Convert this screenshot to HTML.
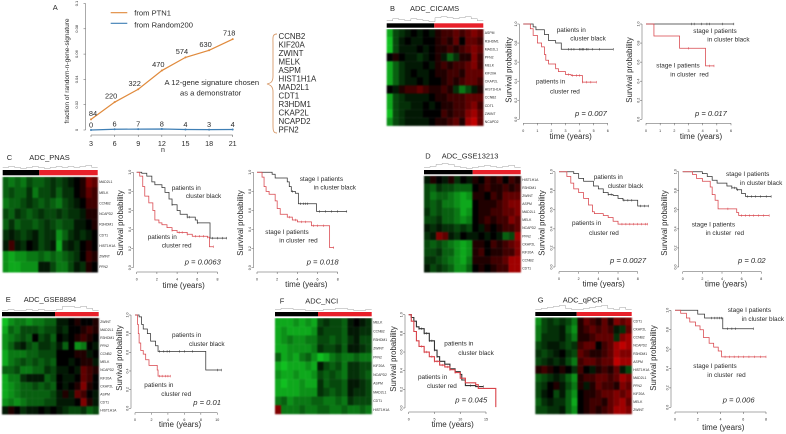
<!DOCTYPE html>
<html>
<head>
<meta charset="utf-8">
<style>
html,body{margin:0;padding:0;background:#fff;width:786px;height:434px;overflow:hidden}
svg{display:block;filter:blur(0.3px)}
text{font-family:"Liberation Sans",sans-serif;fill:#2a2a2a}
.an{font-size:6.4px}
.pv{font-size:7.6px;font-style:italic}
.yl{font-size:7.8px;text-anchor:middle}
.xl{font-size:8px;text-anchor:middle}
.ti{font-size:7.5px}
.g{font-size:7.6px}
.cells{filter:blur(0.7px)}
</style>
</head>
<body>
<svg id="fig" xmlns="http://www.w3.org/2000/svg" width="786" height="434" viewBox="0 0 786 434">
<rect width="786" height="434" fill="#fff"/>

<g id="panelA">
<text class="ti" x="52.7" y="10">A</text>
<text transform="translate(69,71) rotate(-90)" text-anchor="middle" style="font-size:6.6px">fraction of random-n-gene-signature</text>
<text x="163" y="152" text-anchor="middle" style="font-size:7px">n</text>
<line x1="110.7" x2="127.3" y1="12.7" y2="12.7" stroke="#e08a3c" stroke-width="1.1"/>
<line x1="110.7" x2="127.3" y1="23.3" y2="23.3" stroke="#3f7fb5" stroke-width="1.1"/>
<text class="g" x="134.3" y="15.5">from PTN1</text>
<text class="g" x="134.3" y="27.5">from Random200</text>
<text class="g" x="164.5" y="85">A 12-gene signature chosen</text>
<text class="g" x="180" y="95.5">as a demonstrator</text>
<path d="M277,34 C272,34 273,38 273,44 L273,76 C273,82 271,83 267,84 C271,85 273,87 273,92 L273,125 C273,130 273,133 277,133" fill="none" stroke="#d79a6a" stroke-width="0.9"/>
<g class="g" style="font-size:7.9px">
<text x="278.5" y="39" style="font-size:7.9px">CCNB2</text>
<text x="278.5" y="47.5" style="font-size:7.9px">KIF20A</text>
<text x="278.5" y="56" style="font-size:7.9px">ZWINT</text>
<text x="278.5" y="64.6" style="font-size:7.9px">MELK</text>
<text x="278.5" y="73.1" style="font-size:7.9px">ASPM</text>
<text x="278.5" y="81.6" style="font-size:7.9px">HIST1H1A</text>
<text x="278.5" y="90.1" style="font-size:7.9px">MAD2L1</text>
<text x="278.5" y="98.7" style="font-size:7.9px">CDT1</text>
<text x="278.5" y="107.2" style="font-size:7.9px">R3HDM1</text>
<text x="278.5" y="115.7" style="font-size:7.9px">CKAP2L</text>
<text x="278.5" y="124.2" style="font-size:7.9px">NCAPD2</text>
<text x="278.5" y="132.7" style="font-size:7.9px">PFN2</text>
</g>
</g>

<g id="panelB">
<text class="ti" x="390" y="11">B</text>
<text class="ti" x="410" y="11">ADC_CICAMS</text>
<text class="an" x="556.7" y="32">patients in</text>
<text class="an" x="570.3" y="40.5">cluster black</text>
<text class="an" x="536" y="83.5">patients in</text>
<text class="an" x="550" y="93.5">cluster red</text>
<text class="pv" x="575" y="116">p = 0.007</text>
<text class="yl" transform="translate(511.6,70) rotate(-90)">Survival probability</text>
<text class="xl" x="570.7" y="139">time (years)</text>
<text class="an" x="693.3" y="33">stage I patients</text>
<text class="an" x="707.3" y="41.5">in cluster black</text>
<text class="an" x="656.3" y="67.5">stage I patients</text>
<text class="an" x="670.3" y="76.5" xml:space="preserve">in cluster  red</text>
<text class="pv" x="695" y="116">p = 0.017</text>
<text class="yl" transform="translate(632,70) rotate(-90)">Survival probability</text>
<text class="xl" x="701" y="139">time (years)</text>
</g>

<g id="panelC">
<text class="ti" x="6.7" y="160">C</text>
<text class="ti" x="29.3" y="160">ADC_PNAS</text>
<text class="an" x="171.7" y="190">patients in</text>
<text class="an" x="185.7" y="198">cluster black</text>
<text class="an" x="147.7" y="239">patients in</text>
<text class="an" x="161.7" y="247.5">cluster red</text>
<text class="pv" x="184.7" y="264.5">p = 0.0063</text>
<text class="yl" transform="translate(123,223) rotate(-90)">Survival probability</text>
<text class="xl" x="183.7" y="288">time (years)</text>
<text class="an" x="299.7" y="181">stage I patients</text>
<text class="an" x="313.7" y="189.5">in cluster black</text>
<text class="an" x="265.3" y="234">stage I patients</text>
<text class="an" x="279.3" y="242.5" xml:space="preserve">in cluster  red</text>
<text class="pv" x="306.7" y="264.5">p = 0.018</text>
<text class="yl" transform="translate(243,223) rotate(-90)">Survival probability</text>
<text class="xl" x="306.3" y="287">time (years)</text>
</g>

<g id="panelD">
<text class="ti" x="425.3" y="158.5">D</text>
<text class="ti" x="441.7" y="158.5">ADC_GSE13213</text>
<text class="an" x="593.7" y="179">patients in</text>
<text class="an" x="607.7" y="188">cluster black</text>
<text class="an" x="572" y="225">patients in</text>
<text class="an" x="589" y="235">cluster red</text>
<text class="pv" x="610" y="263">p = 0.0027</text>
<text class="yl" transform="translate(544.7,223) rotate(-90)">Survival probability</text>
<text class="xl" x="603.7" y="286.5">time (years)</text>
<text class="an" x="726" y="176">stage I patients</text>
<text class="an" x="740" y="185">in cluster black</text>
<text class="an" x="691.7" y="226.5">stage I patients</text>
<text class="an" x="705.7" y="235" xml:space="preserve">in cluster  red</text>
<text class="pv" x="738" y="263">p = 0.02</text>
<text class="yl" transform="translate(667,223) rotate(-90)">Survival probability</text>
<text class="xl" x="726" y="286.5">time (years)</text>
</g>

<g id="panelE">
<text class="ti" x="5.7" y="302">E</text>
<text class="ti" x="23.7" y="302">ADC_GSE8894</text>
<text class="an" x="172" y="337">patients in</text>
<text class="an" x="189" y="346">cluster black</text>
<text class="an" x="144.3" y="387">patients in</text>
<text class="an" x="161.3" y="396">cluster red</text>
<text class="pv" x="193.3" y="405">p = 0.01</text>
<text class="yl" transform="translate(122,358) rotate(-90)">Survival probability</text>
<text class="xl" x="180" y="427">time (years)</text>
</g>

<g id="panelF">
<text class="ti" x="279.7" y="303.5">F</text>
<text class="ti" x="305.3" y="303.5">ADC_NCI</text>
<text class="an" x="444.3" y="345.5">patients in</text>
<text class="an" x="458.3" y="355">cluster black</text>
<text class="an" x="418" y="379">patients in</text>
<text class="an" x="427" y="388">cluster red</text>
<text class="pv" x="455.3" y="402.5">p = 0.045</text>
<text class="yl" transform="translate(396,359) rotate(-90)">Survival probability</text>
<text class="xl" x="452.7" y="427">time (years)</text>
</g>

<g id="panelG">
<text class="ti" x="537.7" y="302.5">G</text>
<text class="ti" x="562.7" y="302.5">ADC_qPCR</text>
<text class="an" x="727.7" y="312">stage I patients</text>
<text class="an" x="741.7" y="321">in cluster black</text>
<text class="an" x="693.3" y="368">stage I patients</text>
<text class="an" x="707.3" y="377" xml:space="preserve">in cluster  red</text>
<text class="pv" x="722.7" y="402.5">p = 0.006</text>
<text class="yl" transform="translate(656,358) rotate(-90)">Survival probability</text>
<text class="xl" x="723.3" y="430">time (years)</text>
</g>
</svg>

<script>
// ---------- Panel A data ----------
const nValues=[3,6,9,12,15,18,21];
const ptn1Counts=[84,220,322,470,574,630,718];
const randomCounts=[0,6,7,8,4,3,4];
const fractionTicks=[0,0.02,0.04,0.06,0.08,0.1];
const fractionTickLabels=['0','0.02','0.04','0.06','0.08','0.1'];

// ---------- Survival curves: times, survival values, censor times ----------
const survTicks=[0,0.2,0.4,0.6,0.8,1];
const survTickLabels=['0.0','0.2','0.4','0.6','0.8','1.0'];
const timeTicks1=[0,1,2,3,4,5,6];
const timeTicks2=[0,2,4,6,8];
const timeTicks3=[0,2,4,6,8,10];
const timeTicks5=[0,5,10,15];

const b1BlackT=[0,0.7,0.9,1.5,1.8,2.3,2.7,6.4];
const b1BlackS=[1,0.97,0.94,0.89,0.825,0.8,0.735,0.735];
const b1BlackC=[3.2,3.4,3.6,4,4.1,4.2,4.3,4.5,4.6,4.9,5.4,6.4];
const b1RedT=[0,0.5,0.7,1,1.3,1.5,1.6,1.8,2.3,2.5,3,3.4,4.2,5.2];
const b1RedS=[1,0.95,0.88,0.8,0.76,0.68,0.62,0.58,0.53,0.5,0.47,0.46,0.39,0.39];
const b1RedC=[3.2,3.5,3.8,4,4.2,4.5,4.8,5.2];

const b2BlackT=[0,6.2];
const b2BlackS=[1,1];
const b2BlackC=[3.2,3.4,3.9,4.3,4.5,5.4,6.2];
const b2RedT=[0,0.56,2.37,4.2,4.8];
const b2RedS=[1,0.874,0.745,0.56,0.56];
const b2RedC=[3,4.5,4.8];

const c1BlackT=[0,0.5,1,1.5,1.8,2.5,2.8,3.2,3.5,4,4.3,5,5.8,6,7.26,8.9];
const c1BlackS=[1,0.99,0.96,0.9,0.87,0.84,0.79,0.72,0.66,0.6,0.56,0.53,0.5,0.47,0.31,0.31];
const c1BlackC=[3.5,5,5.2,6,7.5,8,8.5,8.9];
const c1RedT=[0,0.3,0.6,0.8,1.2,1.6,1.8,2.2,2.5,3,3.5,4,5,5.5,7,7.2,7.6];
const c1RedS=[1,0.96,0.85,0.75,0.68,0.6,0.5,0.47,0.45,0.42,0.39,0.37,0.35,0.33,0.32,0.22,0.22];
const c1RedC=[3.5,4.2,4.5,5,5.8,6.2,6.6,7,7.6];

const c2BlackT=[0,1.5,1.8,3,3.2,3.4,3.8,4.1,5.9,8.9];
const c2BlackS=[1,0.98,0.94,0.9,0.85,0.8,0.78,0.67,0.59,0.59];
const c2BlackC=[3.5,4.3,4.6,4.8,5,6.2,6.8,7.4,8,8.9];
const c2RedT=[0,0.5,0.7,0.9,1.2,1.8,2,2.3,3,3.5,4,5.4,7.2,7.6];
const c2RedS=[1,0.95,0.85,0.8,0.77,0.7,0.62,0.56,0.53,0.5,0.48,0.44,0.21,0.21];
const c2RedC=[3.2,3.8,4.4,4.8,5.6,6,6.6,7.6];

const d1BlackT=[0,1.5,2,2.5,3.5,4,4.5,5,5.5,6,6.5,8,9.1];
const d1BlackS=[1,0.98,0.93,0.9,0.85,0.82,0.78,0.76,0.75,0.72,0.7,0.64,0.64];
const d1BlackC=[5,5.3,6.6,7,7.4,8.3,8.7,9.1];
const d1RedT=[0,0.8,1.2,1.5,2,2.5,3,3.4,3.6,4.5,5,5.5,6,9];
const d1RedS=[1,0.95,0.88,0.82,0.78,0.72,0.65,0.58,0.56,0.54,0.52,0.48,0.45,0.45];
const d1RedC=[6.4,6.8,7.2,7.6,8,8.4,8.8,9];

const d2BlackT=[0,2,2.5,3,3.5,4.5,5,5.5,6,6.4,9];
const d2BlackS=[1,0.98,0.95,0.91,0.88,0.85,0.83,0.81,0.77,0.74,0.74];
const d2BlackC=[5,5.3,5.6,6.6,7,7.4,7.9,8.5,9];
const d2RedT=[0,1,1.4,2,2.8,3,3.3,3.6,5.5,5.7,8.8];
const d2RedS=[1,0.97,0.93,0.9,0.84,0.76,0.7,0.61,0.57,0.54,0.54];
const d2RedC=[4.6,6,6.4,6.8,7.2,7.7,8.2,8.8];

const eBlackT=[0,0.5,0.8,1,1.5,1.9,2.5,2.8,8.6,10.5];
const eBlackS=[1,0.98,0.9,0.85,0.8,0.72,0.67,0.61,0.41,0.41];
const eBlackC=[3,3.5,3.9,4.2,5.4,6,7,10,10.5];
const eRedT=[0,0.3,0.4,0.5,0.7,1,1.3,1.7,2.7,2.8,4.3];
const eRedS=[1,0.9,0.8,0.7,0.62,0.58,0.52,0.46,0.41,0.345,0.345];
const eRedC=[3,3.3,3.7,4,4.3];

const fBlackT=[0,0.5,1,1.5,2,3,4,5,5.5,6,7,8,9,10,10.3,11,13,14.5];
const fBlackS=[1,0.97,0.93,0.87,0.85,0.8,0.72,0.62,0.55,0.5,0.47,0.42,0.39,0.36,0.3,0.24,0.23,0.23];
const fBlackC=[2,2.5,3,3.5,4,4.5,5,5.5,6,7,8,9,12,13.5,14.5];
const fRedT=[0,0.5,1,1.5,2,3,4,5,6,7,8,9,10,11,13,13.5,16.9];
const fRedS=[1,0.93,0.82,0.72,0.66,0.6,0.55,0.5,0.46,0.44,0.41,0.38,0.32,0.27,0.25,0.21,0.01];
const fRedC=[2.5,3,3.5,4.5,5,5.5,6.5,7.5,8,9];

const gBlackT=[0,2,2.6,4.2,6.9];
const gBlackS=[1,0.96,0.92,0.81,0.81];
const gBlackC=[3.2,3.5,3.7,3.9,4.1,4.6,5,5.3,6.9];
const gRedT=[0,0.5,1,1.3,1.8,2.2,2.5,3,3.4,3.8,4.1,8];
const gRedS=[1,0.97,0.92,0.88,0.84,0.8,0.72,0.66,0.62,0.58,0.52,0.52];
const gRedC=[4.4,4.8,5.2,5.6,6,6.5,7,7.5,8];

// ---------- Heatmaps: expression level, negative green, positive red ----------
const heatB=[
[-7,-3,-2,-1,0,-1,0,-1,1,2,2,3,2,3,4,3],
[-8,-3,-1,0,-1,-1,0,0,1,2,1,3,0,3,3,2],
[-8,-3,-1,-1,-1,0,-1,0,1,1,2,1,2,3,4,3],
[0,1,0,-1,-1,-2,-1,0,1,-1,-4,-2,1,1,4,2],
[-7,-4,-2,-1,-1,-1,0,-1,1,2,1,2,2,3,4,2],
[-7,-4,-2,-1,0,-1,-1,0,1,1,2,2,1,3,3,3],
[-7,-4,-2,-1,-1,0,-1,0,0,1,2,1,2,3,3,2],
[0,-1,1,2,2,3,2,1,1,2,1,-2,-5,-3,-1,1],
[-7,-3,-2,-1,-1,-1,-1,0,1,1,2,2,2,3,3,3],
[-7,-3,-2,-2,-1,-1,0,-1,0,1,1,2,2,3,4,2],
[-8,-3,-2,-1,-1,-1,0,0,0,2,1,2,2,4,5,3],
[-6,-3,-2,-1,-1,-1,-1,0,1,1,2,3,1,5,6,3]];
const genesB=['ASPM','R3HDM1','MAD2L1','PFN2','MELK','KIF20A','CKAP2L','HIST1H1A','CCNB2','CDT1','ZWINT','NCAPD2'];
const dendroB=[2,4,3,2,4,3,2,1,5,6,5,4,5,6,4,2];

const heatC=[
[-4,-5,-4,-5,-3,-4,-4,-3,-2,-3,-2,-1,0,1,4,3],
[-4,-3,-4,-4,-2,-5,-3,-3,-2,-4,-2,-2,0,1,3,2],
[-5,-4,-4,-3,-2,-3,-4,-3,-4,-5,-3,-2,-1,0,2,2],
[-3,-4,-2,-3,-4,-3,-2,-3,-3,-2,-3,-2,-2,-1,1,1],
[-4,-2,-4,-3,-3,-4,-3,-2,-3,-4,-3,-3,-1,-1,0,1],
[-2,-1,-2,-3,-2,-1,-3,-2,-2,-6,-4,-2,-1,-2,-1,0],
[-1,2,-1,-2,0,-1,-3,-2,-1,-7,-2,-1,-2,0,1,0],
[-6,-7,-6,-6,-5,-5,-4,-5,-4,-5,-4,-3,-2,0,2,1],
[-6,-7,-7,-6,-6,-6,-1,-1,-3,-5,-5,-3,-1,-2,1,0]];
const genesC=['MAD2L1','MELK','CCNB2','NCAPD2','R3HDM1','CDT1','HIST1H1A','ZWINT','PFN2'];
const dendroC=[2,3,2,1,2,3,2,1,2,3,2,3,2,3,4,2];

const heatD=[
[-1,1,0,-1,1,-2,0,-1,1,0,2,1,2,0,2,1],
[-3,-4,-2,-3,-3,-4,-4,-4,0,1,2,1,1,2,1,2],
[-3,-5,-4,-4,-5,-6,-7,-6,1,1,0,2,1,3,3,3],
[-3,-4,-3,-5,-5,-6,-7,-7,0,1,1,1,2,3,4,4],
[-2,-4,-3,-4,-4,-5,-7,-6,0,1,1,2,2,3,3,4],
[-3,-3,-2,-4,-4,-5,-6,-5,0,1,2,1,2,2,4,3],
[-1,-2,-1,-2,-2,-3,-2,-3,0,-1,1,0,1,2,2,3],
[-2,-1,4,3,-1,-2,0,-1,-1,0,-1,0,-1,-4,-3,5],
[-3,-4,-3,-4,-5,-6,-7,-6,1,1,0,2,1,2,3,4],
[-3,-3,-2,-4,-4,-6,-7,-6,1,2,0,1,1,2,2,4],
[-2,-2,-3,-4,-5,-6,-7,-5,1,1,1,2,2,3,5,5],
[-1,-3,-2,-3,-4,-6,-6,-4,0,1,0,1,2,2,5,5]];
const genesD=['HIST1H1A','R3HDM1','ZWINT','ASPM','MAD2L1','MELK','NCAPD2','PFN2','CKAP2L','KIF20A','CCNB2','CDT1'];
const dendroD=[2,3,5,6,5,3,2,1,2,3,4,3,2,3,4,2];

const heatE=[
[-8,-6,-5,-5,-6,-5,-5,-4,-4,-1,-1,0,1,0,0,1],
[-7,-4,-5,-3,-3,-3,-4,-3,-3,-1,-2,0,0,1,2,1],
[-6,-5,-4,-3,-4,0,-3,-2,-4,0,-1,0,1,2,1,0],
[-6,-4,-2,-1,-3,-4,-2,-2,-3,-1,-4,0,-6,-5,0,-1],
[-7,-5,-5,-5,-4,-4,-3,-3,-3,0,0,0,1,1,-1,0],
[-7,-5,-4,-3,-4,-3,-4,-3,-4,0,0,-1,0,1,1,-1],
[-4,-4,-3,-5,-5,-4,-4,-2,-3,-1,-1,0,-1,3,2,1],
[-7,-5,-5,-2,-1,-1,-1,-4,-3,0,-1,-1,0,3,2,0],
[-7,-6,-5,-4,-4,-3,-4,-3,-4,0,-1,0,1,4,1,0],
[-7,-6,-5,-4,-4,-4,-4,-4,-3,-1,1,-1,3,2,0,-1],
[-6,-5,-6,-5,-4,-4,-4,-3,-3,-1,-1,-1,0,4,1,-1],
[-1,1,0,-2,-1,-1,0,-1,0,-1,-2,-3,-3,-2,-4,-3]];
const genesE=['ZWINT','MAD2L1','R3HDM1','PFN2','CCNB2','MELK','NCAPD2','KIF20A','CKAP2L','ASPM','CDT1','HIST1H1A'];
const dendroE=[1,2,1,1,2,1,2,1,1,2,5,5,4,5,3,1];

const heatF=[
[-7,-7,-7,-6,-7,-6,-7,-3,-2,-3,-3,-4,-1,0,-1,-2],
[-7,-6,-7,-7,-7,-7,-6,-2,-3,-3,-3,-4,-1,-1,-2,-2],
[-7,-6,-5,-6,-6,-5,-5,-3,-3,-4,-3,-4,-2,-1,-3,-3],
[-7,-7,-6,-6,-6,-6,-5,-2,-3,-3,-2,-4,-1,-1,-2,-3],
[-4,-7,-6,-7,-5,-4,-6,-8,-7,-5,-4,-5,-5,-4,-5,-5],
[-7,-8,-7,-7,-7,-6,-7,-1,-3,-4,-3,-5,-2,-2,-3,-3],
[-6,-7,-7,-6,-7,-7,-6,-3,-4,-3,-4,-5,-2,-2,-3,-4],
[-7,-8,-7,-7,-6,-7,-7,-2,-4,-3,-3,-4,-1,-1,-2,-3],
[-7,-7,-7,-7,-6,-6,-6,-2,-3,-4,-3,-4,-1,-2,-2,-3],
[-5,-4,-6,-5,-5,-5,-4,-4,-5,-5,-4,-5,-2,-3,-3,-3],
[4,-5,-5,-5,-4,-5,-5,-4,-4,-5,-5,-4,-5,-5,-4,-5]];
const genesF=['MELK','CCNB2','R3HDM1','ZWINT','PFN2','KIF20A','NCAPD2','ASPM','MAD2L1','CDT1','HIST1H1A'];
const dendroF=[2,3,3,2,2,1,1,1,2,2,3,3,2,1,1,2];

const heatG=[
[-6,-3,-2,-3,-2,-3,-5,1,3,2,1,3,1,4,3,4],
[-5,-3,-2,-2,-1,-4,-6,1,2,3,2,3,2,-1,-2,3],
[-5,-2,-2,-2,-1,-3,-5,1,1,2,3,3,3,-2,4,5],
[-3,-2,-1,-1,-2,-3,-2,2,3,3,0,2,3,5,6,5],
[-2,-3,-2,-1,0,-2,-3,3,2,1,1,2,3,5,4,4],
[-3,-2,-1,-2,-1,-3,-5,2,3,3,2,3,3,6,5,5],
[1,2,1,0,1,0,-2,2,0,-1,1,2,1,3,-1,-3],
[-4,-3,-2,-1,-2,-4,-6,1,2,2,3,3,2,3,5,4],
[-3,-2,0,1,-1,-3,-5,1,-1,1,3,2,2,1,4,3],
[-3,-1,0,-3,-1,-4,-6,0,1,1,2,3,3,4,3,4],
[-4,-2,-1,-2,-2,-4,-7,0,1,2,2,1,3,4,5,3],
[-3,-3,-2,-2,-1,-4,-6,0,1,2,1,2,3,5,5,4]];
const genesG=['CDT1','CKAP2L','CCNB2','NCAPD2','R3HDM1','ASPM','HIST1H1A','MAD2L1','PFN2','KIF20A','MELK','ZWINT'];
const dendroG=[2,3,4,5,6,3,2,2,3,4,5,6,3,2,4,2];

// ---------- Drawing ----------
const NS='http://www.w3.org/2000/svg';
function mk(parent,tag,attrs){
  const el=document.createElementNS(NS,tag);
  for(const k in attrs)el.setAttribute(k,attrs[k]);
  parent.appendChild(el);
  return el;
}
function linScale(d0,d1,r0,r1){return v=>r0+(v-d0)*(r1-r0)/(d1-d0);}

function drawAxes(g,prefix,sx,sy,xTicks,yTicks,yLabels,axisX,axisY,fs){
  const xAxis=mk(g,'line',{x1:sx(xTicks[0]),x2:sx(xTicks[xTicks.length-1]),y1:axisY,y2:axisY,stroke:'#555','stroke-width':0.5});
  
  
  const yAxis=mk(g,'line',{x1:axisX,x2:axisX,y1:sy(yTicks[0]),y2:sy(yTicks[yTicks.length-1]),stroke:'#555','stroke-width':0.5});
  
  
  xTicks.forEach(t=>{
    const tk=mk(g,'line',{x1:sx(t),x2:sx(t),y1:axisY,y2:axisY+2,stroke:'#555','stroke-width':0.5});
    
    
    const lb=mk(g,'text',{x:sx(t),y:axisY+fs.xOff,'text-anchor':'middle',style:'font-size:'+fs.x+'px'});
    lb.textContent=String(t);
    
    
  });
  yTicks.forEach((t,i)=>{
    const tk=mk(g,'line',{x1:axisX-2,x2:axisX,y1:sy(t),y2:sy(t),stroke:'#555','stroke-width':0.5});
    
    
    const lb=mk(g,'text',{transform:'translate('+(axisX-fs.yOff)+','+sy(t)+') rotate(-90)','text-anchor':'middle',style:'font-size:'+fs.y+'px'});
    lb.textContent=yLabels[i];
    
    
  });
}

function stepValue(ts,ss,t){
  let s=ss[0];
  for(let i=0;i<ts.length;i++){if(ts[i]<=t)s=ss[i];}
  return s;
}
function drawCurve(g,name,color,sx,sy,ts,ss,cs,width){
  let d='M'+sx(ts[0])+','+sy(ss[0]);
  for(let i=1;i<ts.length;i++){d+='H'+sx(ts[i])+'V'+sy(ss[i]);}
  const p=mk(g,'path',{d:d,fill:'none',stroke:color,'stroke-width':width});
  
  
  cs.forEach(t=>{
    const y=sy(stepValue(ts,ss,t));
    const c=mk(g,'line',{x1:sx(t),x2:sx(t),y1:y-1.2,y2:y+1.2,stroke:color,'stroke-width':0.5});
    
    
  });
}
const BLACK='#333333',RED='#d8434a';
function drawKM(panelId,prefix,geo,xTicks,blackT,blackS,blackC,redT,redS,redC){
  const g=document.getElementById(panelId);
  const sx=linScale(0,geo.tRef,geo.x0,geo.xRef);
  const sy=linScale(0,1,geo.yZero,geo.yOne);
  const w=geo.width||0.75;
  drawAxes(g,prefix,sx,sy,xTicks,survTicks,survTickLabels,geo.axisX,geo.axisY,{x:3.6,y:3.6,xOff:8.5,yOff:2.4});
  drawCurve(g,prefix+'-curve-black',BLACK,sx,sy,blackT,blackS,blackC,w);
  drawCurve(g,prefix+'-curve-red',RED,sx,sy,redT,redS,redC,w);
}

function heatColor(v){
  const a=Math.abs(v);
  if(v<0)return 'rgb('+Math.round(a*2)+','+Math.min(255,Math.round(a*24))+','+Math.round(a*4)+')';
  return 'rgb('+Math.min(255,Math.round(v*32))+',0,0)';
}
function drawHeat(panelId,prefix,geo,matrix,genes,dendro){
  const g=document.getElementById(panelId);
  const rows=matrix.length,cols=matrix[0].length;
  const cw=(geo.x1-geo.x0)/cols,rh=(geo.y1-geo.y0)/rows;
  const cells=mk(g,'g',{class:'cells'});
  
  
  matrix.forEach((row,r)=>{
    row.forEach((v,c)=>{
      const cell=mk(cells,'rect',{x:geo.x0+c*cw,y:geo.y0+r*rh,width:cw+0.2,height:rh+0.2,fill:heatColor(v)});
      
      
    });
  });
  const cover=mk(g,'rect',{x:geo.x0-2,y:geo.y0-2,width:geo.x1-geo.x0+4,height:2,fill:'#fff'});
  
  
  matrix.forEach((row,r)=>{
    const lb=mk(g,'text',{x:geo.x1+1.5,y:geo.y0+(r+0.5)*rh+1.2,style:'font-size:3.4px'});
    lb.textContent=genes[r];
    
    
  });
  const bk=mk(g,'rect',{x:geo.x0,y:geo.barY0,width:geo.split-geo.x0,height:geo.barY1-geo.barY0,fill:'#000'});
  
  
  const rd=mk(g,'rect',{x:geo.split,y:geo.barY0,width:geo.x1-geo.split,height:geo.barY1-geo.barY0,fill:'#e8202a'});
  
  
  const dw=(geo.x1-geo.x0)/dendro.length;
  let d='';
  dendro.forEach((h,i)=>{
    const y=geo.barY0-0.6-h;
    d+=(i?'L':'M')+(geo.x0+i*dw)+','+y+'H'+(geo.x0+(i+1)*dw);
  });
  const den=mk(g,'path',{d:d,fill:'none',stroke:'#8a8a8a','stroke-width':0.4});
  
  
}

function drawPanelA(){
  const g=document.getElementById('panelA');
  const sx=linScale(3,21,91,232.7);
  const sy=linScale(0,0.1,130,3.5);
  drawAxes(g,'a',sx,sy,nValues,fractionTicks,fractionTickLabels,85.5,135,{x:7.2,y:4,xOff:11,yOff:7.5});
  function series(name,color,counts){
    const pts=counts.map((c,i)=>sx(nValues[i]).toFixed(2)+','+sy(c/10000).toFixed(2)).join(' ');
    const p=mk(g,'polyline',{points:pts,fill:'none',stroke:color,'stroke-width':1.2});
    
    
    counts.forEach((c,i)=>{
      const dot=mk(g,'circle',{cx:sx(nValues[i]).toFixed(2),cy:sy(c/10000).toFixed(2),r:1,fill:color});
      
      
    });
  }
  series('ptn1','#e08a3c',ptn1Counts);
  series('random200','#3f7fb5',randomCounts);
  ptn1Counts.forEach((c,i)=>{
    const lb=mk(g,'text',{x:sx(nValues[i])+(i===0?2:-3.5),y:sy(c/10000)-3.5,'text-anchor':'middle',style:'font-size:7.4px'});
    lb.textContent=String(c);
    
    
  });
  randomCounts.forEach((c,i)=>{
    const lb=mk(g,'text',{x:sx(nValues[i]),y:sy(c/10000)-2.5,'text-anchor':'middle',style:'font-size:7.4px'});
    lb.textContent=String(c);
    
    
  });
}

drawPanelA();

drawHeat('panelB','b',{x0:386.7,x1:483.3,y0:29,y1:125.7,barY0:23.3,barY1:27.7,split:434.3},heatB,genesB,dendroB);
drawHeat('panelC','c',{x0:2.7,x1:97.7,y0:176.7,y1:272.3,barY0:170,barY1:175.3,split:39.3},heatC,genesC,dendroC);
drawHeat('panelD','d',{x0:424,x1:520.7,y0:175.7,y1:272.3,barY0:170,barY1:174.3,split:472.7},heatD,genesD,dendroD);
drawHeat('panelE','e',{x0:2,x1:98.7,y0:317.7,y1:414.3,barY0:312,barY1:316.3,split:55},heatE,genesE,dendroE);
drawHeat('panelF','f',{x0:275,x1:371.7,y0:318,y1:414,barY0:312,barY1:316.3,split:318},heatF,genesF,dendroF);
drawHeat('panelG','g',{x0:535.3,x1:631.7,y0:317.3,y1:414,barY0:312,barY1:316,split:576.7},heatG,genesG,dendroG);

drawKM('panelB','b1',{x0:523.3,xRef:607.7,tRef:6,yZero:119.3,yOne:24,axisX:519.3,axisY:123.3},timeTicks1,b1BlackT,b1BlackS,b1BlackC,b1RedT,b1RedS,b1RedC);
drawKM('panelB','b2',{x0:646,xRef:731,tRef:6,yZero:119.3,yOne:24,axisX:642,axisY:123.3},timeTicks1,b2BlackT,b2BlackS,b2BlackC,b2RedT,b2RedS,b2RedC);
drawKM('panelC','c1',{x0:136.7,xRef:197.3,tRef:6,yZero:267.7,yOne:172.3,axisX:133.3,axisY:272},timeTicks2,c1BlackT,c1BlackS,c1BlackC,c1RedT,c1RedS,c1RedC);
drawKM('panelC','c2',{x0:257,xRef:337.7,tRef:8,yZero:267.7,yOne:172.3,axisX:253.5,axisY:272},timeTicks2,c2BlackT,c2BlackS,c2BlackC,c2RedT,c2RedS,c2RedC);
drawKM('panelD','d1',{x0:559,xRef:637.7,tRef:8,yZero:267,yOne:171.7,axisX:555,axisY:271.7},timeTicks2,d1BlackT,d1BlackS,d1BlackC,d1RedT,d1RedS,d1RedC);
drawKM('panelD','d2',{x0:682.7,xRef:761.3,tRef:8,yZero:267,yOne:171.7,axisX:678.7,axisY:271.7},timeTicks2,d2BlackT,d2BlackS,d2BlackC,d2RedT,d2RedS,d2RedC);
drawKM('panelE','e',{x0:135,xRef:217.3,tRef:10,yZero:408.3,yOne:315,axisX:131,axisY:412.7},timeTicks3,eBlackT,eBlackS,eBlackC,eRedT,eRedS,eRedC);
drawKM('panelF','f',{x0:408.7,xRef:486,tRef:15,yZero:408,yOne:314.7,axisX:405,axisY:412,width:1.1},timeTicks5,fBlackT,fBlackS,fBlackC,fRedT,fRedS,fRedC);
drawKM('panelG','g',{x0:675,xRef:766,tRef:8,yZero:407.3,yOne:310.3,axisX:671,axisY:412},timeTicks2,gBlackT,gBlackS,gBlackC,gRedT,gRedS,gRedC);
</script>
</body>
</html>
